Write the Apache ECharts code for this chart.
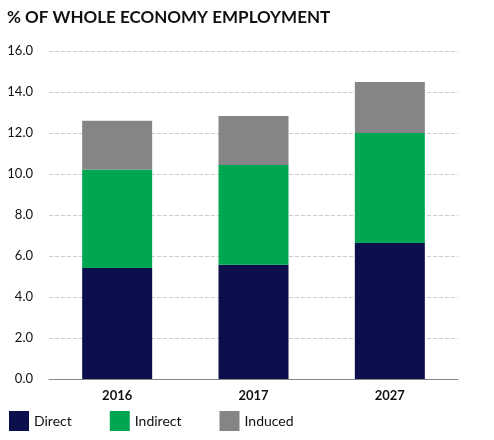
<!DOCTYPE html>
<html><head><meta charset="utf-8">
<script src="https://cdn.jsdelivr.net/npm/echarts@6/dist/echarts.min.js"></script>
<style>body{margin:0;background:#fff}#c{width:494px;height:440px}</style>
</head><body><div id="c"></div>
<script>
var years = ['2016', '2017', '2027'];
var direct = [5.42, 5.57, 6.63];
var indirect = [4.8, 4.87, 5.37];
var induced = [2.38, 2.39, 2.49];

var chart = echarts.init(document.getElementById('c'));
function bar(name, data, color) {
	return { name: name, type: 'bar', stack: 'all', data: data, barWidth: 70, itemStyle: { color: color } };
}
chart.setOption({
	animation: false,
	title: { text: '% OF WHOLE ECONOMY EMPLOYMENT', left: 2, top: 4,
		textStyle: { fontFamily: 'Lato', fontWeight: 'bold', fontSize: 17, color: '#111' } },
	grid: { left: 49, right: 36, top: 51, bottom: 61 },
	legend: { left: 4, bottom: 4, itemWidth: 20, itemHeight: 20, itemGap: 38, icon: 'rect',
		textStyle: { fontFamily: 'Lato', fontSize: 14, color: '#111' } },
	xAxis: { type: 'category', data: years,
		axisLine: { lineStyle: { color: '#888' } }, axisTick: { show: false },
		axisLabel: { fontFamily: 'Lato', fontWeight: 'bold', fontSize: 13, color: '#111', margin: 10 } },
	yAxis: { type: 'value', min: 0, max: 16, interval: 2,
		axisLabel: { formatter: function (v) { return v.toFixed(1); }, fontFamily: 'Lato', fontSize: 13, color: '#111', margin: 16 },
		splitLine: { lineStyle: { color: '#ccc', type: 'dashed' } } },
	series: [
		bar('Direct', direct, '#0b0f4b'),
		bar('Indirect', indirect, '#00a651'),
		bar('Induced', induced, '#858585')
	]
});
</script></body></html>
